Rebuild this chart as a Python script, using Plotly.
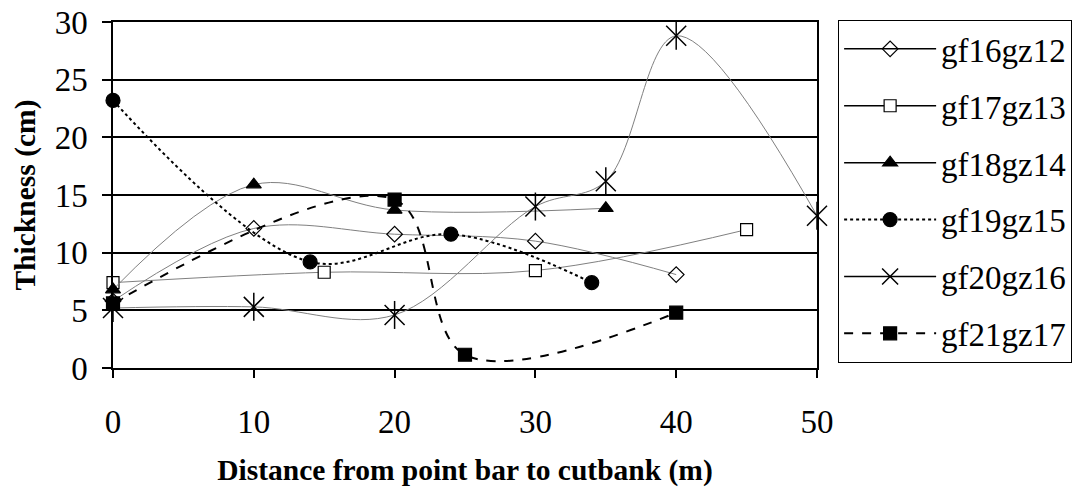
import plotly.graph_objects as go

# Data
names = ["gf16gz12", "gf17gz13", "gf18gz14", "gf19gz15", "gf20gz16", "gf21gz17"]
x_gf16 = [0, 10, 20, 30, 40]
y_gf16 = [5.8, 12.1, 11.6, 11.0, 8.1]
x_gf17 = [0, 15, 30, 45]
y_gf17 = [7.4, 8.3, 8.45, 12.0]
x_gf18 = [0, 10, 20, 35]
y_gf18 = [6.8, 15.9, 13.7, 13.85]
x_gf19 = [0, 14, 24, 34]
y_gf19 = [23.2, 9.2, 11.6, 7.4]
x_gf20 = [0, 10, 20, 30, 35, 40, 50]
y_gf20 = [5.2, 5.3, 4.6, 14.0, 16.2, 28.8, 13.2]
x_gf21 = [0, 20, 25, 40]
y_gf21 = [5.6, 14.6, 1.15, 4.8]
x_ticks = [0, 10, 20, 30, 40, 50]
y_ticks = [0, 5, 10, 15, 20, 25, 30]

FONT = "Liberation Serif"
GRAY = "#808080"

fig = go.Figure()

def add(name, xs, ys, color, dash, width, symbol, size, mfill, mline_w=1.2, legend_color="black"):
    # plotted series (gray smoothed lines, as in the reference)
    fig.add_trace(go.Scatter(
        x=xs, y=ys, name=name, mode="lines+markers", legendgroup=name,
        showlegend=False, cliponaxis=False,
        line=dict(shape="spline", smoothing=1.0, color=color, dash=dash, width=width),
        marker=dict(symbol=symbol, size=size, color=mfill,
                    line=dict(color="black", width=mline_w)),
    ))
    # legend entry (black line as in the reference legend)
    fig.add_trace(go.Scatter(
        x=[None], y=[None], name=name, mode="lines+markers", legendgroup=name,
        showlegend=True,
        line=dict(color=legend_color, dash=dash, width=max(width, 1.5)),
        marker=dict(symbol=symbol, size=size, color=mfill,
                    line=dict(color="black", width=mline_w)),
    ))

add(names[0], x_gf16, y_gf16, GRAY, "solid", 1, "diamond-open", 12, "black")
add(names[1], x_gf17, y_gf17, GRAY, "solid", 1, "square", 12, "white")
add(names[2], x_gf18, y_gf18, GRAY, "solid", 1, "triangle-up", 13, "black")
add(names[3], x_gf19, y_gf19, "black", "dot", 2, "circle", 14, "black")
add(names[4], x_gf20, y_gf20, GRAY, "solid", 1, "x-thin-open", 20, "black", 1.5)
# vertical stroke of the asterisk markers
fig.add_trace(go.Scatter(
    x=x_gf20, y=y_gf20, mode="markers", showlegend=False, legendgroup=names[4],
    hoverinfo="skip", cliponaxis=False,
    marker=dict(symbol="line-ns-open", size=20, color="black", line=dict(color="black", width=1.5)),
))
add(names[5], x_gf21, y_gf21, "black", "dash", 2, "square", 13, "black")

fig.update_layout(
    width=1074, height=489,
    margin=dict(l=113, r=257, t=22, b=121, autoexpand=False),
    paper_bgcolor="white", plot_bgcolor="white",
    font=dict(family=FONT, size=33, color="black"),
    showlegend=True,
    legend=dict(
        x=1.03, xanchor="left", y=1.006, yanchor="top",
        bordercolor="black", borderwidth=1, bgcolor="white",
        font=dict(family=FONT, size=33, color="black"),
        tracegroupgap=11, itemwidth=92, maxheight=489,
    ),
)
fig.update_xaxes(
    range=[0, 50], tickvals=x_ticks, ticks="outside", ticklen=8, tickwidth=1.5,
    tickcolor="black", showline=True, linecolor="black", linewidth=1.5, mirror=True,
    showgrid=False, zeroline=False, ticklabelstandoff=16, automargin=False,
    tickfont=dict(family=FONT, size=33),
    title=dict(text="<b>Distance from point bar to cutbank (m)</b>",
               font=dict(family=FONT, size=29.5), standoff=20),
)
fig.update_yaxes(
    range=[0, 30], tickvals=y_ticks, ticks="outside", ticklen=9, tickwidth=1.5,
    tickcolor="black", showline=True, linecolor="black", linewidth=1.5, mirror=True,
    showgrid=True, gridcolor="black", gridwidth=1.5, zeroline=False,
    ticklabelstandoff=8, automargin=False,
    tickfont=dict(family=FONT, size=33),
    title=dict(text="<b>Thickness (cm)</b>", font=dict(family=FONT, size=29.5), standoff=10),
)

fig.write_html("out.html")
